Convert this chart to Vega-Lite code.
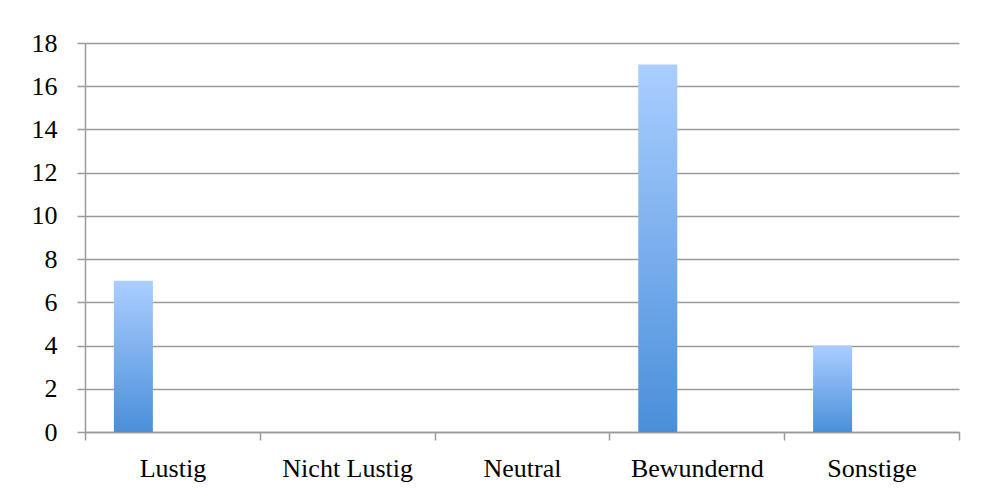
{
  "$schema": "https://vega.github.io/schema/vega-lite/v6.json",
  "width": 874,
  "height": 389,
  "autosize": {"type": "none"},
  "padding": {"left": 85, "top": 43, "right": 22, "bottom": 61},
  "background": "white",
  "config": {"view": {"stroke": null}, "font": "Liberation Serif"},
  "data": {
    "values": [
      {"Kategorie": "Lustig", "Reihe": "Reihe 1", "Anzahl": 7},
      {"Kategorie": "Nicht Lustig", "Reihe": "Reihe 1", "Anzahl": 0},
      {"Kategorie": "Neutral", "Reihe": "Reihe 1", "Anzahl": 0},
      {"Kategorie": "Bewundernd", "Reihe": "Reihe 1", "Anzahl": 17},
      {"Kategorie": "Sonstige", "Reihe": "Reihe 1", "Anzahl": 4}
    ]
  },
  "mark": {
    "type": "bar",
    "color": {
      "gradient": "linear",
      "x1": 0, "y1": 0, "x2": 0, "y2": 1,
      "stops": [
        {"offset": 0, "color": "#AACEFF"},
        {"offset": 1, "color": "#4A8FDA"}
      ]
    }
  },
  "encoding": {
    "x": {
      "field": "Kategorie",
      "type": "nominal",
      "sort": ["Lustig", "Nicht Lustig", "Neutral", "Bewundernd", "Sonstige"],
      "scale": {"paddingInner": 0, "paddingOuter": 0},
      "axis": {
        "title": null,
        "labelAngle": 0,
        "tickBand": "extent",
        "tickSize": 8,
        "tickWidth": 1.5,
        "tickColor": "#9a9a9a",
        "domainColor": "#9a9a9a",
        "domainWidth": 1.5,
        "labelFontSize": 26,
        "labelColor": "#000000",
        "labelPadding": 15,
        "labelFont": "Liberation Serif"
      }
    },
    "xOffset": {
      "field": "Reihe",
      "type": "nominal",
      "scale": {"domain": ["Reihe 1", "Reihe 2", "Reihe 3"], "paddingInner": 0, "paddingOuter": 0.74}
    },
    "y": {
      "field": "Anzahl",
      "type": "quantitative",
      "scale": {"domain": [0, 18], "nice": false},
      "axis": {
        "title": null,
        "values": [0, 2, 4, 6, 8, 10, 12, 14, 16, 18],
        "grid": true,
        "gridColor": "#9a9a9a",
        "gridWidth": 1.5,
        "tickSize": 8,
        "tickWidth": 1.5,
        "tickColor": "#9a9a9a",
        "domainColor": "#9a9a9a",
        "domainWidth": 1.5,
        "labelFontSize": 26,
        "labelColor": "#000000",
        "labelPadding": 20,
        "labelFont": "Liberation Serif"
      }
    }
  }
}
